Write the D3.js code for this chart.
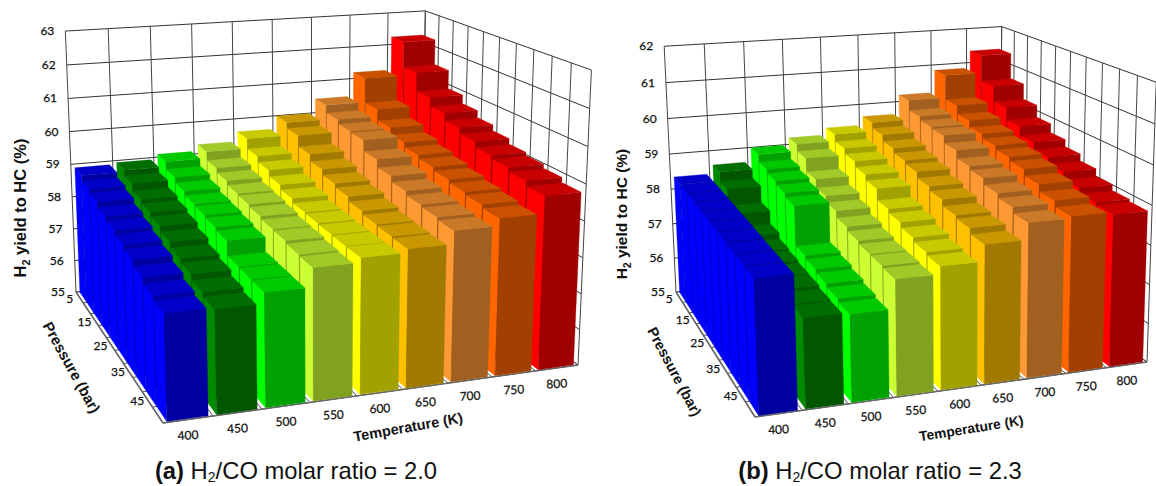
<!DOCTYPE html>
<html>
<head>
<meta charset="utf-8">
<script src="https://cdn.jsdelivr.net/npm/d3@7"></script>
<style>
	html, body { margin: 0; padding: 0; background: #fff; }
	svg { display: block; }
	text { fill: #111; }
	.tick { font-family: Lato, "Open Sans", sans-serif; font-size: 12px; stroke: #111; stroke-width: 0.25px; text-anchor: middle; dominant-baseline: middle; }
	.title { font-family: "Liberation Sans", Arial, sans-serif; font-weight: 700; text-anchor: middle; }
	.caption { font-family: "Liberation Sans", Arial, sans-serif; font-size: 23.8px; text-anchor: middle; }
</style>
</head>
<body>
<div id="chart"></div>
<script>
var temperatures = [400, 450, 500, 550, 600, 650, 700, 750, 800];
var pressures = [5, 10, 15, 20, 25, 30, 35, 40, 45, 50];
var pressureLabels = [5, 15, 25, 35, 45];
var barColors = ['#0000ff', '#008a00', '#00ff00', '#ccff33', '#ffff00', '#ffc000', '#ff9933', '#ff6600', '#ff0000'];

// one row per temperature, pressure 5 -> 50 bar
var yieldA = [
	[58.9, 58.75, 58.65, 58.5, 58.4, 58.3, 58.2, 58.05, 57.9, 57.8],
	[58.95, 58.8, 58.6, 58.5, 58.4, 58.25, 58.1, 58.0, 57.85, 57.75],
	[59.1, 58.88, 58.73, 58.62, 58.58, 58.52, 58.45, 58.05, 58.04, 58.03],
	[59.3, 59.05, 58.92, 58.81, 58.77, 58.71, 58.64, 58.62, 58.56, 58.53],
	[59.6, 59.3, 59.13, 58.95, 58.82, 58.7, 58.68, 58.66, 58.65, 58.65],
	[60.0, 59.83, 59.5, 59.3, 59.14, 59.03, 58.9, 58.81, 58.78, 58.75],
	[60.45, 60.22, 60.09, 60.06, 59.73, 59.5, 59.34, 59.23, 59.17, 59.1],
	[61.2, 60.44, 60.1, 59.89, 59.75, 59.65, 59.55, 59.46, 59.39, 59.3],
	[62.25, 61.48, 60.92, 60.66, 60.45, 60.28, 60.12, 60.03, 59.92, 59.78]
];
var yieldB = [
	[58.35, 58.35, 58.34, 58.33, 58.32, 58.31, 58.3, 58.28, 58.27, 58.26],
	[58.6, 58.35, 57.9, 57.55, 57.4, 57.35, 57.3, 57.28, 57.22, 57.2],
	[59.0, 58.8, 58.7, 58.6, 58.5, 57.45, 57.38, 57.3, 57.22, 57.15],
	[59.2, 59.01, 58.65, 58.42, 58.26, 58.09, 57.99, 57.92, 57.9, 57.86],
	[59.4, 59.2, 59.05, 58.9, 58.75, 58.45, 58.35, 58.22, 58.12, 58.05],
	[59.65, 59.49, 59.32, 59.19, 59.1, 58.94, 58.83, 58.67, 58.6, 58.46],
	[60.2, 59.93, 59.82, 59.78, 59.58, 59.37, 59.28, 59.12, 59.01, 58.87],
	[60.85, 60.16, 59.92, 59.74, 59.62, 59.52, 59.42, 59.25, 59.07, 58.92],
	[61.35, 60.63, 60.2, 59.86, 59.62, 59.43, 59.25, 59.06, 58.91, 58.86]
];

var svg = d3.select('#chart').append('svg').attr('width', 1156).attr('height', 486);

// floor maps from (u,v) in 0..1, u along temperature and v towards the viewer
function floorHomography(c) {
	var dx1 = c[1][0] - c[2][0], dx2 = c[3][0] - c[2][0], sx = c[0][0] - c[1][0] + c[2][0] - c[3][0];
	var dy1 = c[1][1] - c[2][1], dy2 = c[3][1] - c[2][1], sy = c[0][1] - c[1][1] + c[2][1] - c[3][1];
	var det = dx1 * dy2 - dx2 * dy1;
	var g = (sx * dy2 - dx2 * sy) / det, h = (dx1 * sy - sx * dy1) / det;
	return [
		[c[1][0] - c[0][0] + g * c[1][0], c[3][0] - c[0][0] + h * c[3][0], c[0][0]],
		[c[1][1] - c[0][1] + g * c[1][1], c[3][1] - c[0][1] + h * c[3][1], c[0][1]],
		[g, h, 1]
	];
}

function makeProjection(p) {
	var H = floorHomography(p.floor);
	function base(u, v) {
		return [H[0][0] * u + H[0][1] * v + H[0][2], H[1][0] * u + H[1][1] * v + H[1][2], H[2][0] * u + H[2][1] * v + H[2][2]];
	}
	// height column of the camera matrix, solved from the top corners of the walls
	var tops = [[0, 0, p.top[0]], [1, 0, p.top[1]], [1, 1, p.top[2]]].map(function(t) {
		var b = base(t[0], t[1]);
		return { X: t[2][0], Y: t[2][1], a: t[2][0] * b[2] - b[0], b: t[2][1] * b[2] - b[1] };
	});
	var g3 = (tops[2].a - tops[0].a) / (tops[0].X - tops[2].X);
	var g1 = d3.mean(tops, function(t) { return t.X * g3 + t.a; });
	var g2 = d3.mean(tops, function(t) { return t.Y * g3 + t.b; });
	return function(u, v, w) {
		var b = base(u, v), d = b[2] + g3 * w;
		return [(b[0] + g1 * w) / d, (b[1] + g2 * w) / d];
	};
}

function shade(color, k) {
	var c = d3.rgb(color);
	return d3.rgb(c.r * k, c.g * k, c.b * k).formatHex();
}

var polygon = d3.line();

function drawPanel(p) {
	var g = svg.append('g');
	var project = makeProjection(p);
	var xBand = d3.scaleBand().domain(temperatures).range([0, 1]).paddingInner(0.17).paddingOuter(0.085);
	var zBand = d3.scaleBand().domain(pressures).range([0, 1]).paddingInner(0.07).paddingOuter(0.05);
	var yScale = d3.scaleLinear().domain(p.yDomain).range([0, 1]);
	var yTicks = yScale.ticks(p.yDomain[1] - p.yDomain[0]);
	var uEdges = d3.range(temperatures.length + 1).map(function(i) { return i / temperatures.length; });
	var vEdges = d3.range(pressures.length + 1).map(function(i) { return i / pressures.length; });

	function seg(a, b, color, width) {
		g.append('path').attr('d', polygon([a, b])).attr('fill', 'none').attr('stroke', color).attr('stroke-width', width);
	}

	// walls
	yTicks.forEach(function(t) {
		var w = yScale(t);
		seg(project(0, 0, w), project(1, 0, w), '#333', 1);
		seg(project(1, 0, w), project(1, 1, w), '#333', 1);
	});
	uEdges.forEach(function(u) { seg(project(u, 0, 0), project(u, 0, 1), '#444', 1); });
	vEdges.forEach(function(v) { seg(project(1, v, 0), project(1, v, 1), '#444', 1); });

	// floor, the ticks only show up in the gaps between the bars
	uEdges.forEach(function(u) { seg(project(u, 0, 0), project(u, 1, 0), '#555', 1); });
	vEdges.forEach(function(v) { seg(project(0, v, 0), project(1, v, 0), '#555', 1); });
	seg(project(0, 0, 0), project(0, 1, 0), '#666', 1.5);
	seg(project(0, 1, 0), project(1, 1, 0), '#666', 1.5);

	// columns right to left, rows back to front so nearer bars paint over
	var bars = [];
	d3.range(temperatures.length - 1, -1, -1).forEach(function(i) {
		pressures.forEach(function(pr, j) {
			bars.push({ i: i, t: temperatures[i], p: pr, value: p.values[i][j] });
		});
	});

	var bar = g.selectAll('g.bar').data(bars).join('g').attr('class', 'bar');
	function face(corners, k) {
		bar.append('path')
			.attr('d', function(d) {
				var u0 = xBand(d.t), u1 = u0 + xBand.bandwidth();
				var v0 = zBand(d.p), v1 = v0 + zBand.bandwidth();
				var w = yScale(d.value);
				return polygon(corners(u0, u1, v0, v1, w).map(function(q) { return project(q[0], q[1], q[2]); })) + 'Z';
			})
			.attr('fill', function(d) { return shade(barColors[d.i], k); })
			.attr('stroke', function(d) { return shade(barColors[d.i], k); })
			.attr('stroke-width', 0.3);
	}
	face(function(u0, u1, v0, v1, w) { return [[u0, v0, 0], [u0, v1, 0], [u0, v1, w], [u0, v0, w]]; }, 1);
	face(function(u0, u1, v0, v1, w) { return [[u0, v1, 0], [u1, v1, 0], [u1, v1, w], [u0, v1, w]]; }, 0.63);
	face(function(u0, u1, v0, v1, w) { return [[u0, v0, w], [u1, v0, w], [u1, v1, w], [u0, v1, w]]; }, 0.79);

	// axis labels
	yTicks.forEach(function(t) {
		var q = project(0, 0, yScale(t));
		g.append('text').attr('class', 'tick').attr('x', q[0] - 18).attr('y', q[1] + 1).text(t);
	});
	temperatures.forEach(function(t) {
		var q = project(xBand(t) + xBand.bandwidth() / 2, 1, 0);
		g.append('text').attr('class', 'tick').attr('x', q[0]).attr('y', q[1] + 17)
			.attr('transform', 'rotate(-3 ' + q[0] + ' ' + (q[1] + 17) + ')').text(t);
	});
	pressureLabels.forEach(function(pr) {
		var q = project(0, zBand(pr) + zBand.bandwidth() / 2, 0);
		g.append('text').attr('class', 'tick').attr('x', q[0] - 10).attr('y', q[1] + 3).text(pr);
	});

	// axis titles
	var yt = g.append('text').attr('class', 'title').style('font-size', p.titleSizes[0] + 'px')
		.attr('transform', 'translate(' + p.yTitle[0] + ',' + p.yTitle[1] + ') rotate(-90)');
	yt.append('tspan').text('H');
	yt.append('tspan').attr('dy', 4).style('font-size', (p.titleSizes[0] * 0.65) + 'px').text('2');
	yt.append('tspan').attr('dy', -4).text(' yield to HC (%)');
	g.append('text').attr('class', 'title').style('font-size', p.titleSizes[1] + 'px')
		.attr('transform', 'translate(' + p.xTitle[0] + ',' + p.xTitle[1] + ') rotate(' + p.xTitle[2] + ')').text('Temperature (K)');
	g.append('text').attr('class', 'title').style('font-size', p.titleSizes[2] + 'px')
		.attr('transform', 'translate(' + p.zTitle[0] + ',' + p.zTitle[1] + ') rotate(' + p.zTitle[2] + ')').text('Pressure (bar)');

	// caption under the panel
	var cap = g.append('text').attr('class', 'caption').attr('x', p.caption[0]).attr('y', p.caption[1]);
	cap.append('tspan').style('font-weight', 700).text(p.tag);
	cap.append('tspan').text(' H');
	cap.append('tspan').attr('dy', 3).style('font-size', '14px').text('2');
	cap.append('tspan').attr('dy', -3).text('/CO molar ratio = ' + p.ratio);
}

drawPanel({
	tag: '(a)', ratio: '2.0', values: yieldA, yDomain: [55, 63],
	floor: [[76, 292], [421, 254], [578, 365], [163, 423]],
	top: [[65, 31], [426, 11], [591, 70]],
	titleSizes: [16.5, 14.5, 15],
	yTitle: [26, 208], xTitle: [409, 432, -10], zTitle: [67, 370, 61], caption: [296, 479]
});
drawPanel({
	tag: '(b)', ratio: '2.3', values: yieldB, yDomain: [55, 62],
	floor: [[676, 292], [1000, 256], [1147, 362], [755, 417]],
	top: [[664, 46], [1002, 27], [1156, 82]],
	titleSizes: [15.5, 13.8, 14.5],
	yTitle: [627, 214], xTitle: [972, 433, -9], zTitle: [670, 374, 62], caption: [880, 479]
});
</script>
</body>
</html>
